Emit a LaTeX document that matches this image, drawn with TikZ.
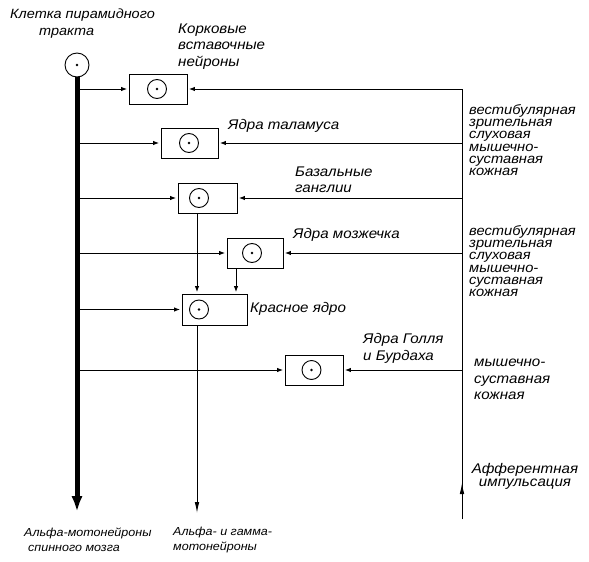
\documentclass[tikz,border=0pt]{standalone}
\usepackage{fontspec}
\setmainfont{Liberation Sans}[FakeStretch=1.08]
\usetikzlibrary{arrows.meta, positioning}
\tikzset{
  % ядра (прямоугольники)
  nucbox/.style  = {draw, line width=0.9pt, minimum width=58pt, minimum height=30pt, inner sep=0pt},
  % нейрон: кружок с точкой
  soma/.style    = {circle, draw, line width=0.9pt, minimum size=19pt, inner sep=0pt,
                    path picture={\fill (path picture bounding box.center) circle (1.3pt);}},
  % волокна
  fibre/.style   = {line width=0.9pt},
  inarrow/.style = {fibre, -{Latex[length=6pt,width=4.5pt]}, shorten >=1.5pt},
  downarrow/.style = {fibre, -{Latex[length=11pt,width=4.5pt]}},
  % подписи
  lab/.style     = {font=\fontsize{14}{#1}\selectfont\itshape, inner sep=0pt, anchor=west, align=left},
  lab/.default   = 16.5,
  sublab/.style  = {lab, font=\fontsize{13.6}{12.2}\selectfont\itshape},
  botlab/.style  = {lab, font=\fontsize{11.6}{15}\selectfont\itshape},
}
\begin{document}
\begin{tikzpicture}[x=1pt, y=-1pt]
  \useasboundingbox (0,0) rectangle (589,562);
  % опорные точки
  \coordinate (spinetop) at (77,76);
  \coordinate (spinebot) at (77,520);
  \coordinate (afftop)   at (462,89);
  \coordinate (affbot)   at (462,519);
  \coordinate (affmark)  at (462,483);
  \coordinate (axA)      at (197,0);
  \coordinate (axB)      at (236,0);
  \coordinate (redout)   at (197,513);
  % ядра
  \node[nucbox] (cort) at (158,89) {};
  \node[nucbox, minimum width=57pt] (thal) at (189.5,143) {};
  \node[nucbox, minimum width=59pt] (bas) at (207.5,198) {};
  \node[nucbox, minimum width=56pt] (cereb) at (255,253) {};
  \node[nucbox, minimum width=65pt, minimum height=31pt] (red) at (214.5,309.5) {};
  \node[nucbox] (goll) at (314,370) {};
  % нейроны
  \node[soma, minimum size=24pt] (pyr) at (77,65) {};
  \node[soma] (scort)  at (157,89) {};
  \node[soma] (sthal)  at (189,143) {};
  \node[soma] (sbas)   at (199,198) {};
  \node[soma] (scereb) at (252,253) {};
  \node[soma] (sred)   at (199,309.5) {};
  \node[soma] (sgoll)  at (311.5,370) {};
  % входы от пирамидного тракта
  \foreach \n in {cort,thal,bas,cereb,red,goll}
    \draw[inarrow] (spinetop |- \n.west) -- (\n.west);
  % афферентные входы
  \foreach \n in {cort,thal,bas,cereb,goll}
    \draw[inarrow] (afftop |- \n.east) -- (\n.east);
  \draw[fibre] (affbot) -- (afftop);
  \draw[fibre, -{Latex[length=11pt,width=4.5pt]}] (affbot) -- (affmark);
  % к красному ядру и вниз
  \draw[inarrow] (bas.south -| axA) -- (red.north -| axA);
  \draw[inarrow] (cereb.south -| axB) -- (red.north -| axB);
  \draw[downarrow] (red.south -| axA) -- (redout);
  % пирамидный тракт
  \draw[line width=5pt, -{Latex[length=24pt,width=10pt]}] (pyr.south) -- (spinebot);
  % подписи
  \node[lab=17, font=\fontsize{13.4}{17}\selectfont\itshape] (pyrlab) at (10,23.5) {Клетка пирамидного\\\hspace*{29pt}тракта};
  \node[lab] (cortlab) at (178,46.5) {Корковые\\вставочные\\нейроны};
  \node[lab] (thallab) at (228,126) {Ядра таламуса};
  \node[lab=16] (baslab) at (295,180) {Базальные\\ганглии};
  \node[lab] (cereblab) at (293,235) {Ядра мозжечка};
  \node[lab] (redlab) at (250,309) {Красное ядро};
  \node[lab] (golllab) at (363,348.5) {Ядра Голля\\и Бурдаха};
  \node[sublab] (aff1) at (469,140) {вестибулярная\\зрительная\\слуховая\\мышечно-\\суставная\\кожная};
  \node[sublab] (aff2) at (469,261) {вестибулярная\\зрительная\\слуховая\\мышечно-\\суставная\\кожная};
  \node[lab] (aff3) at (474,379.5) {мышечно-\\суставная\\кожная};
  \node[lab=13, align=center, anchor=center] (afflab) at (525,476.5) {Афферентная\\импульсация};
  \node[botlab] (mn1) at (24,539.5) {Альфа-мотонейроны\\\hspace*{4pt}спинного мозга};
  \node[botlab] (mn2) at (173,539.5) {Альфа- и гамма-\\мотонейроны};
\end{tikzpicture}
\end{document}
